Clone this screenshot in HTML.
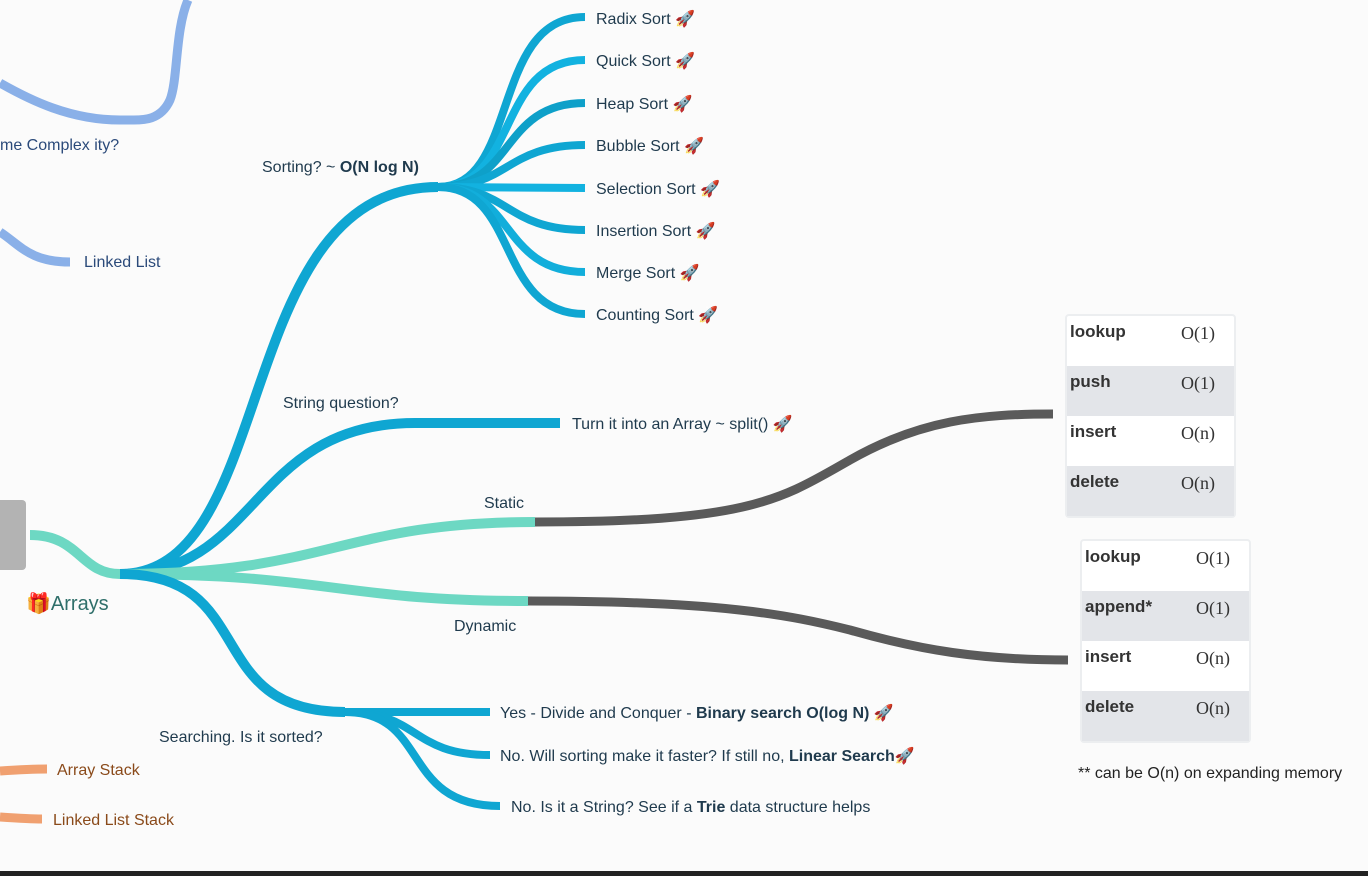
<!DOCTYPE html>
<html><head><meta charset="utf-8"><style>
body{margin:0;width:1368px;height:876px;overflow:hidden;background:#fbfbfb;font-family:"Liberation Sans",sans-serif;}
svg{position:absolute;left:0;top:0}
.t{font-size:16px;fill:#1f3a4d}
.tbl{position:absolute;background:#fff;border:2px solid #eceef0;border-radius:4px;font-size:17px}
.row{height:50px;position:relative}
.row.g{background:#e3e5e9}
.k{position:absolute;left:3px;top:6px;font-weight:bold;color:#333}
.v{position:absolute;left:114px;top:7px;font-family:"Liberation Serif",serif;color:#333;font-size:18px}
</style></head><body>
<svg width="1368" height="876">
<g fill="none" stroke-linecap="butt">
<path d="M188,0 C175,30 178,80 170,100 C160,122 140,120 130,120 L120,120 C70,120 30,100 0,83" stroke="#8ab0e8" stroke-width="9"/>
<path d="M0,232 C20,245 30,262 70,262" stroke="#8ab0e8" stroke-width="9"/>
<path d="M0,771 C15,770 30,769 47,769" stroke="#f0a070" stroke-width="9"/>
<path d="M0,817 C15,818 30,819 42,819" stroke="#f0a070" stroke-width="9"/>
<path d="M30,535 C80,535 80,574 120,574" stroke="#6dd8c3" stroke-width="10"/>
<path d="M120,574 C280,574 230,187 438,187" stroke="#0fa6d2" stroke-width="10"/>
<path d="M438,187 C520,187 490,17 585,17" stroke="#0fa6d2" stroke-width="8"/>
<path d="M438,187 C520,187 495,60 585,60" stroke="#12b2e0" stroke-width="8"/>
<path d="M438,187 C515,187 500,103 585,103" stroke="#0ea0c9" stroke-width="8"/>
<path d="M438,187 C510,187 505,145 585,145" stroke="#0fa6d2" stroke-width="8"/>
<path d="M438,187 L585,188" stroke="#12b2e0" stroke-width="8"/>
<path d="M438,187 C510,187 505,230 585,230" stroke="#0fa6d2" stroke-width="8"/>
<path d="M438,187 C515,187 500,272 585,272" stroke="#12aedb" stroke-width="8"/>
<path d="M438,187 C520,187 495,314 585,314" stroke="#0fa6d2" stroke-width="8"/>
<path d="M120,574 C260,574 250,423 415,423 L560,423" stroke="#0fa6d2" stroke-width="10"/>
<path d="M120,574 C330,574 340,522 535,522" stroke="#6dd8c3" stroke-width="10"/>
<path d="M535,522 C750,522 780,500 850,460 C920,420 980,414 1053,414" stroke="#5a5a5a" stroke-width="9"/>
<path d="M120,574 C330,574 340,601 528,601" stroke="#6dd8c3" stroke-width="10"/>
<path d="M528,601 C720,601 790,615 850,630 C920,650 980,660 1068,660" stroke="#5a5a5a" stroke-width="9"/>
<path d="M120,574 C260,574 200,712 345,712" stroke="#0fa6d2" stroke-width="10"/>
<path d="M345,712 L490,712" stroke="#0fa6d2" stroke-width="8"/>
<path d="M345,712 C420,712 410,755 490,755" stroke="#0fa6d2" stroke-width="8"/>
<path d="M345,712 C430,712 400,806 500,806" stroke="#0fa6d2" stroke-width="8"/>
</g>
<rect x="-5" y="500" width="31" height="70" rx="4" fill="#b3b3b3"/>
<g class="t">
<text x="0" y="150" fill="#2b4a7a">me  Complex ity?</text>
<text x="84" y="267" fill="#2b4a7a">Linked List</text>
<text x="262" y="172">Sorting? ~ <tspan font-weight="bold">O(N log N)</tspan></text>
<text x="596" y="24">Radix Sort 🚀</text>
<text x="596" y="66">Quick Sort 🚀</text>
<text x="596" y="109">Heap Sort 🚀</text>
<text x="596" y="151">Bubble Sort 🚀</text>
<text x="596" y="194">Selection Sort 🚀</text>
<text x="596" y="236">Insertion Sort 🚀</text>
<text x="596" y="278">Merge Sort 🚀</text>
<text x="596" y="320">Counting Sort 🚀</text>
<text x="283" y="408">String question?</text>
<text x="572" y="429">Turn it into an Array ~ split() 🚀</text>
<text x="484" y="508">Static</text>
<text x="454" y="631">Dynamic</text>
<text x="159" y="742">Searching. Is it sorted?</text>
<text x="500" y="718">Yes - Divide and Conquer - <tspan font-weight="bold">Binary search O(log N)</tspan> 🚀</text>
<text x="500" y="761">No. Will sorting make it faster? If still no, <tspan font-weight="bold">Linear Search</tspan>🚀</text>
<text x="511" y="812">No. Is it a String? See if a <tspan font-weight="bold">Trie</tspan> data structure helps</text>
<text x="57" y="775" fill="#8a4a1a">Array Stack</text>
<text x="53" y="825" fill="#8a4a1a">Linked List Stack</text>
<text x="1078" y="778" fill="#222">** can be O(n) on expanding memory</text>
<text x="26" y="610" font-size="20" fill="#2f6f6a">🎁Arrays</text>
</g>
<rect x="0" y="871" width="1368" height="5" fill="#222"/>
</svg>
<div class="tbl" style="left:1065px;top:314px;width:167px">
<div class="row"><span class="k">lookup</span><span class="v">O(1)</span></div>
<div class="row g"><span class="k">push</span><span class="v">O(1)</span></div>
<div class="row"><span class="k">insert</span><span class="v">O(n)</span></div>
<div class="row g"><span class="k">delete</span><span class="v">O(n)</span></div>
</div>
<div class="tbl" style="left:1080px;top:539px;width:167px">
<div class="row"><span class="k">lookup</span><span class="v">O(1)</span></div>
<div class="row g"><span class="k">append*</span><span class="v">O(1)</span></div>
<div class="row"><span class="k">insert</span><span class="v">O(n)</span></div>
<div class="row g"><span class="k">delete</span><span class="v">O(n)</span></div>
</div>
</body></html>
